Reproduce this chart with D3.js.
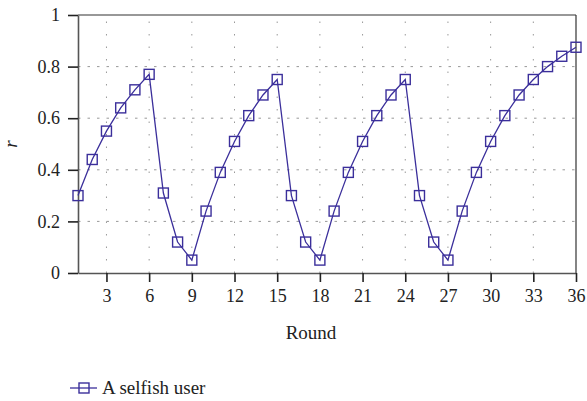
<!DOCTYPE html>
<html><head><meta charset="utf-8">
<script src="https://cdn.jsdelivr.net/npm/d3@7"></script>
<style>body{margin:0;background:#fff}svg{display:block;font-family:"Liberation Serif",Tinos,serif}
svg text{font-family:"Liberation Serif",Tinos,serif}</style>
</head><body><svg id="c" width="587" height="401" font-family="Liberation Serif, serif"></svg>
<script>
const rounds = d3.range(1, 37);
const selfish = [0.30,0.44,0.55,0.64,0.71,0.77,0.31,0.12,0.05,0.24,0.39,0.51,0.61,0.69,0.75,
                 0.30,0.12,0.05,0.24,0.39,0.51,0.61,0.69,0.75,0.30,0.12,0.05,0.24,0.39,0.51,
                 0.61,0.69,0.75,0.80,0.84,0.875];
const xTicks = [3,6,9,12,15,18,21,24,27,30,33,36];
const yTicks = [0,0.2,0.4,0.6,0.8,1];
const seriesName = "A selfish user";
const color = "#3b2f9b";
const FONT = '"Liberation Serif", Tinos, serif';

const svg = d3.select("#c");
const L = 78, R = 576, T = 15, B = 273;
const x = d3.scaleLinear().domain([1,36]).range([L,R]);
const y = d3.scaleLinear().domain([0,1]).range([B,T]);

function serif(sel, size) {
  return sel.attr("font-family", "Liberation Serif, serif")
    .style("font-family", FONT).style("font-size", size + "px");
}

// grid
svg.append("g").selectAll("line").data(yTicks.filter(d=>d>0&&d<1)).join("line")
  .attr("x1",L).attr("x2",R).attr("y1",d=>y(d)).attr("y2",d=>y(d))
  .attr("stroke","#999").attr("stroke-width",1).attr("stroke-dasharray","2.5,7");
svg.append("g").selectAll("line").data(xTicks.filter(d=>d<36)).join("line")
  .attr("x1",d=>x(d)).attr("x2",d=>x(d)).attr("y1",B).attr("y2",T)
  .attr("stroke","#999").attr("stroke-width",1).attr("stroke-dasharray","1.5,11");

// frame
svg.append("line").attr("x1",L).attr("x2",R).attr("y1",T).attr("y2",T).attr("stroke","#333").attr("stroke-width",1.2);
svg.append("line").attr("x1",R).attr("x2",R).attr("y1",T).attr("y2",B).attr("stroke","#333").attr("stroke-width",1.2);

// axes
const xAxis = svg.append("g").attr("transform",`translate(0,${B})`)
  .call(d3.axisBottom(x).tickValues(xTicks).tickSize(9).tickPadding(7).tickSizeOuter(0));
const yAxis = svg.append("g").attr("transform",`translate(${L},0)`)
  .call(d3.axisLeft(y).tickValues(yTicks).tickFormat(d=>d===0?"0":d===1?"1":d3.format(".1f")(d)).tickSize(10).tickPadding(8).tickSizeOuter(0));
[xAxis,yAxis].forEach(a=>{
  a.attr("font-family","Liberation Serif, serif").attr("font-size",18);
  a.select(".domain").attr("stroke","#555").attr("stroke-width",1.6);
  a.selectAll(".tick line").attr("stroke","#222").attr("stroke-width",1.6);
  serif(a.selectAll(".tick text"), 18).attr("fill","#222");
});

// line + markers
svg.append("path").datum(rounds.map((r,i)=>[r,selfish[i]]))
  .attr("fill","none").attr("stroke",color).attr("stroke-width",1.3)
  .attr("d",d3.line().x(d=>x(d[0])).y(d=>y(d[1])));
svg.append("g").selectAll("rect").data(rounds.map((r,i)=>[r,selfish[i]])).join("rect")
  .attr("x",d=>x(d[0])-5).attr("y",d=>y(d[1])-5).attr("width",10).attr("height",10)
  .attr("fill","none").attr("stroke",color).attr("stroke-width",1.4);

// labels
serif(svg.append("text").attr("x",(L+R)/2 - 16).attr("y",339).attr("text-anchor","middle"), 19)
  .attr("fill","#222").text("Round");
serif(svg.append("text").attr("transform","translate(17,144) rotate(-90)").attr("text-anchor","middle"), 19)
  .style("font-style","italic").attr("fill","#222").text("r");

// legend
const ly = 388;
svg.append("line").attr("x1",70).attr("x2",97).attr("y1",ly).attr("y2",ly).attr("stroke",color).attr("stroke-width",1.3);
svg.append("rect").attr("x",79).attr("y",ly-5).attr("width",10).attr("height",10).attr("fill","none").attr("stroke",color).attr("stroke-width",1.4);
serif(svg.append("text").attr("x",102).attr("y",ly+6), 19).attr("fill","#222").text(seriesName);
</script></body></html>
